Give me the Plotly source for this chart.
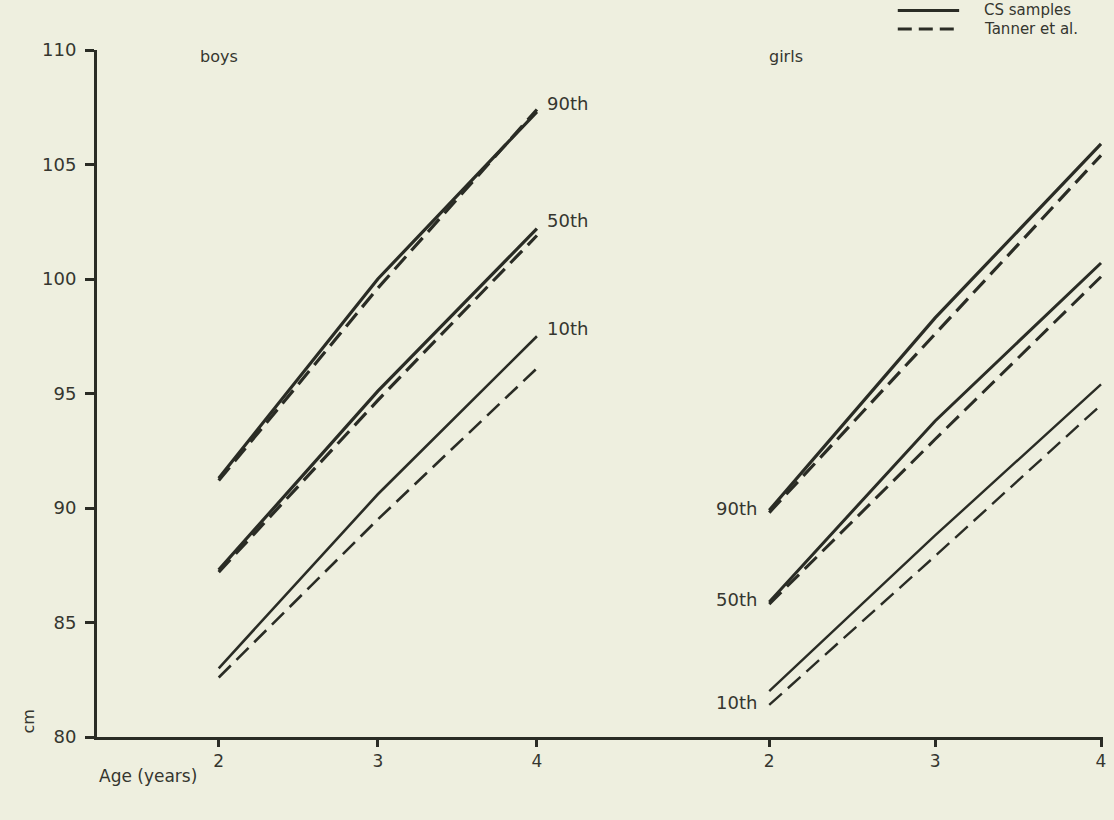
import plotly.graph_objects as go

ages = [2, 3, 4]

boys_cs_90 = [91.3, 100.0, 107.3]
boys_tanner_90 = [91.2, 99.6, 107.4]
boys_cs_50 = [87.3, 95.1, 102.2]
boys_tanner_50 = [87.2, 94.7, 101.9]
boys_cs_10 = [83.0, 90.6, 97.5]
boys_tanner_10 = [82.6, 89.5, 96.1]

girls_cs_90 = [89.9, 98.3, 105.9]
girls_tanner_90 = [89.8, 97.6, 105.4]
girls_cs_50 = [85.9, 93.8, 100.7]
girls_tanner_50 = [85.8, 93.0, 100.1]
girls_cs_10 = [82.0, 88.8, 95.4]
girls_tanner_10 = [81.4, 87.9, 94.5]

y_ticks = [80, 85, 90, 95, 100, 105, 110]
x_ticks = [2, 3, 4]
percentile_labels = ["90th", "50th", "10th"]

INK = "#2a2c25"
TEXT = "#35362f"
BG = "#eeefdf"
FONT = "DejaVu Sans"
DASH = "17px,8px"

fig = go.Figure()

def add(xs, ys, xaxis, dashed, width):
    fig.add_trace(go.Scatter(
        x=xs, y=ys, mode="lines", xaxis=xaxis, yaxis="y",
        line=dict(color=INK, width=width, dash=DASH if dashed else "solid"),
        showlegend=False, hoverinfo="skip"))

add(ages, boys_cs_90, "x", False, 3.2)
add(ages, boys_tanner_90, "x", True, 3.2)
add(ages, boys_cs_50, "x", False, 3.2)
add(ages, boys_tanner_50, "x", True, 3.2)
add(ages, boys_cs_10, "x", False, 2.6)
add(ages, boys_tanner_10, "x", True, 2.6)

add(ages, girls_cs_90, "x2", False, 3.2)
add(ages, girls_tanner_90, "x2", True, 3.2)
add(ages, girls_cs_50, "x2", False, 3.0)
add(ages, girls_tanner_50, "x2", True, 3.0)
add(ages, girls_cs_10, "x2", False, 2.4)
add(ages, girls_tanner_10, "x2", True, 2.4)

d = 0.548
axis_common = dict(
    showline=True, linecolor=INK, linewidth=3,
    ticks="outside", ticklen=7, tickwidth=2.5, tickcolor=INK,
    tickvals=x_ticks, ticktext=[str(t) for t in x_ticks],
    showgrid=False, zeroline=False,
    tickfont=dict(family=FONT, size=17, color=TEXT),
    anchor="y",
)

fig.update_layout(
    width=1114, height=820,
    margin=dict(l=97, r=8, t=50, b=83),
    paper_bgcolor=BG, plot_bgcolor=BG,
    xaxis=dict(domain=[0, d], range=[1.235, 4.70], **axis_common),
    xaxis2=dict(domain=[d, 1], range=[1.271, 4.012], **axis_common),
    yaxis=dict(
        range=[80, 110], tickvals=y_ticks, ticktext=[str(t) for t in y_ticks],
        showline=True, linecolor=INK, linewidth=3,
        ticks="outside", ticklen=9, tickwidth=2.5, tickcolor=INK,
        ticklabelstandoff=5,
        showgrid=False, zeroline=False, anchor="x",
        tickfont=dict(family=FONT, size=18, color=TEXT),
    ),
    showlegend=False,
)

ann = []
for lab, y in zip(percentile_labels, [boys_cs_90[-1], boys_cs_50[-1], boys_cs_10[-1]]):
    ann.append(dict(x=4.05, y=y + 0.35, xref="x", yref="y", text=lab, showarrow=False,
                    xanchor="left", yanchor="middle",
                    font=dict(family=FONT, size=18, color=TEXT)))
for lab, y in zip(percentile_labels, [girls_cs_90[0], girls_cs_50[0], girls_tanner_10[0]]):
    ann.append(dict(x=1.94, y=y + 0.1, xref="x2", yref="y", text=lab, showarrow=False,
                    xanchor="right", yanchor="middle",
                    font=dict(family=FONT, size=18, color=TEXT)))

ann += [
    dict(x=2.0, y=109.7, xref="x", yref="y", text="boys", showarrow=False,
         xanchor="center", yanchor="middle", font=dict(family=FONT, size=16, color=TEXT)),
    dict(x=2.1, y=109.7, xref="x2", yref="y", text="girls", showarrow=False,
         xanchor="center", yanchor="middle", font=dict(family=FONT, size=16, color=TEXT)),
    dict(x=-0.068, y=0.022, xref="paper", yref="paper", text="cm", showarrow=False,
         textangle=-90, xanchor="center", yanchor="middle",
         font=dict(family=FONT, size=16, color=TEXT)),
    dict(x=0.0, y=-0.057, xref="paper", yref="paper", text="Age (years)", showarrow=False,
         xanchor="left", yanchor="middle", font=dict(family=FONT, size=17, color=TEXT)),
    dict(x=0.880, y=1.0575, xref="paper", yref="paper", text="CS samples", showarrow=False,
         xanchor="left", yanchor="middle", font=dict(family=FONT, size=15, color=TEXT)),
    dict(x=0.880, y=1.0305, xref="paper", yref="paper", text="Tanner et al.", showarrow=False,
         xanchor="left", yanchor="middle", font=dict(family=FONT, size=15, color=TEXT)),
]
fig.update_layout(annotations=ann)

fig.update_layout(shapes=[
    dict(type="line", xref="paper", yref="paper", x0=0.796, x1=0.857, y0=1.0575, y1=1.0575,
         line=dict(color=INK, width=3)),
    dict(type="line", xref="paper", yref="paper", x0=0.796, x1=0.857, y0=1.0305, y1=1.0305,
         line=dict(color=INK, width=3, dash="14px,7px")),
])

fig.write_html("out.html", config={"displayModeBar": False},
               post_script="document.body.style.margin='0';document.body.style.padding='0';")
